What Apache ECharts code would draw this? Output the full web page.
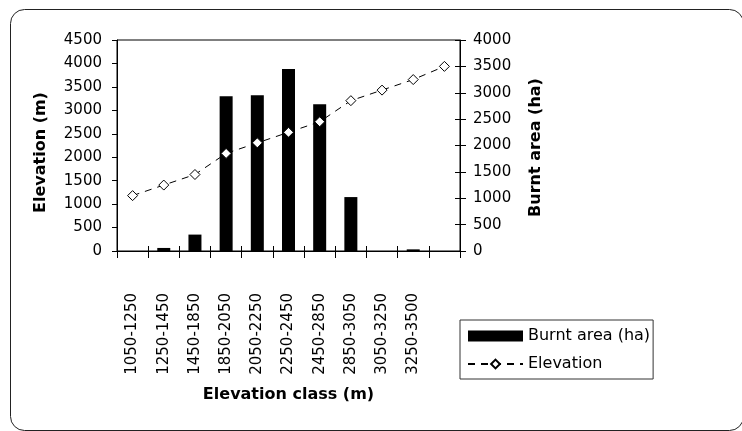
<!DOCTYPE html>
<html>
<head>
<meta charset="utf-8">
<script src="https://cdn.jsdelivr.net/npm/echarts@6/dist/echarts.min.js"></script>
<style>
  html, body { margin: 0; padding: 0; background: #fff; }
  #chart { width: 742px; height: 431px; }
</style>
</head>
<body>
<div id="chart"></div>
<script>
// Elevation classes (the last slot carries the end point of the elevation line only)
const classes = ['1050-1250', '1250-1450', '1450-1850', '1850-2050', '2050-2250',
                 '2250-2450', '2450-2850', '2850-3050', '3050-3250', '3250-3500', ''];
// Burnt area per class (ha)
const burntArea = [0, 65, 350, 3300, 3320, 3880, 3130, 1150, 0, 35, 0];
// Lower bound elevation of each class (m)
const elevation = [1050, 1250, 1450, 1850, 2050, 2250, 2450, 2850, 3050, 3250, 3500];
// Axis ranges
const leftAxisRange = [0, 4500];
const rightAxisRange = [0, 4000];
const axisStep = 500;

const FONT = 'DejaVu Sans';
const chart = echarts.init(document.getElementById('chart'), null, { renderer: 'canvas' });

const black = '#000';
const plain = v => String(v);
const labelStyle = { color: black, fontFamily: FONT, fontSize: 15 };
const titleStyle = { color: black, fontFamily: FONT, fontSize: 16, fontWeight: 'bold' };

chart.setOption({
  animation: false,
  backgroundColor: '#fff',
  graphic: [{
    type: 'rect',
    shape: { x: 10.5, y: 9.5, width: 733, height: 421, r: 14 },
    style: { fill: 'none', stroke: '#222', lineWidth: 1 },
    silent: true
  }],
  grid: {
    left: 117, right: 282, top: 40, bottom: 180,
    show: true, borderColor: black, borderWidth: 1, backgroundColor: 'transparent'
  },
  legend: {
    orient: 'vertical',
    left: 460, top: 320,
    padding: [8, 3, 7, 7],
    itemWidth: 55, itemHeight: 11, itemGap: 12,
    borderColor: '#333', borderWidth: 1, borderRadius: 0,
    textStyle: { color: black, fontFamily: FONT, fontSize: 16, lineHeight: 16 },
    data: [
      { name: 'Burnt area (ha)', icon: 'rect' },
      { name: 'Elevation' }
    ]
  },
  xAxis: [{
    type: 'category',
    data: classes,
    boundaryGap: true,
    axisLine: { show: true, lineStyle: { color: black, width: 1 } },
    axisTick: { show: true, interval: 0, length: 7, lineStyle: { color: black } },
    axisLabel: Object.assign({ rotate: 90, interval: 0, margin: 42 }, labelStyle),
    splitLine: { show: false },
    name: 'Elevation class (m)',
    nameLocation: 'middle',
    nameGap: 136,
    nameTextStyle: titleStyle
  }, {
    type: 'category',
    data: classes,
    position: 'bottom',
    boundaryGap: true,
    axisLine: { show: false },
    axisTick: { show: true, inside: true, interval: 0, length: 5, lineStyle: { color: black } },
    axisLabel: { show: false },
    splitLine: { show: false }
  }],
  yAxis: [{
    type: 'value',
    position: 'left',
    min: leftAxisRange[0], max: leftAxisRange[1], interval: axisStep,
    axisLine: { show: true, lineStyle: { color: black, width: 1 } },
    axisTick: { show: true, length: 5, lineStyle: { color: black } },
    axisLabel: Object.assign({ margin: 15, formatter: plain }, labelStyle),
    splitLine: { show: false },
    name: 'Elevation (m)',
    nameLocation: 'middle',
    nameRotate: 90,
    nameGap: 68,
    nameTextStyle: Object.assign({ padding: [0, 14, 0, 0] }, titleStyle)
  }, {
    type: 'value',
    position: 'right',
    min: rightAxisRange[0], max: rightAxisRange[1], interval: axisStep,
    axisLine: { show: true, lineStyle: { color: black, width: 1 } },
    axisTick: { show: true, length: 6, lineStyle: { color: black } },
    axisLabel: Object.assign({ margin: 13, formatter: plain }, labelStyle),
    splitLine: { show: false },
    name: 'Burnt area (ha)',
    nameLocation: 'middle',
    nameRotate: 90,
    nameGap: 68,
    nameTextStyle: Object.assign({ padding: [0, 4, 0, 0] }, titleStyle)
  }, {
    type: 'value',
    position: 'right',
    min: rightAxisRange[0], max: rightAxisRange[1], interval: axisStep,
    axisLine: { show: false },
    axisTick: { show: true, inside: true, length: 5, lineStyle: { color: black } },
    axisLabel: { show: false },
    splitLine: { show: false }
  }],
  series: [{
    name: 'Burnt area (ha)',
    type: 'bar',
    xAxisIndex: 0,
    yAxisIndex: 0,
    data: burntArea,
    barWidth: 13,
    itemStyle: { color: black }
  }, {
    name: 'Elevation',
    type: 'line',
    xAxisIndex: 0,
    yAxisIndex: 1,
    data: elevation,
    symbol: 'diamond',
    symbolSize: 10,
    showAllSymbol: true,
    itemStyle: { color: '#fff', borderColor: black, borderWidth: 1 },
    lineStyle: { color: black, width: 1, type: [7, 6] }
  }]
});
</script>
</body>
</html>
